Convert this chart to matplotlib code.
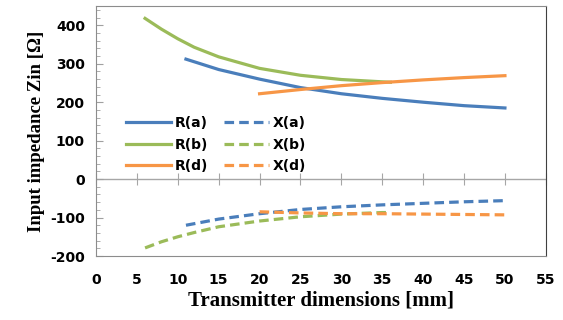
import numpy as np
import matplotlib.pyplot as plt

# data
x_a = [11, 15, 20, 25, 30, 35, 40, 45, 50]
R_a = [312, 285, 260, 238, 222, 210, 200, 191, 185]
X_a = [-120, -104, -90, -79, -72, -67, -63, -59, -56]

x_b = [6, 8, 10, 12, 15, 20, 25, 30, 35, 36]
R_b = [418, 390, 365, 343, 318, 288, 270, 259, 253, 252]
X_b = [-179, -163, -150, -139, -124, -109, -98, -91, -87, -87]

x_d = [20, 25, 30, 35, 40, 45, 50]
R_d = [222, 233, 243, 251, 258, 264, 269]
X_d = [-85, -88, -90, -90, -91, -92, -93]

c_a = '#4a7ebb'
c_b = '#9bbb59'
c_d = '#f79646'

fig = plt.figure(figsize=(5.63, 3.2), dpi=100)
ax = fig.add_axes([0.1705, 0.2, 0.799, 0.781])

lw = 2.3
dash = (3, 1.6)
ra, = ax.plot(x_a, R_a, color=c_a, lw=lw, label='R(a)')
rb, = ax.plot(x_b, R_b, color=c_b, lw=lw, label='R(b)')
rd, = ax.plot(x_d, R_d, color=c_d, lw=lw, label='R(d)')
xa, = ax.plot(x_a, X_a, color=c_a, lw=lw, ls=(0, dash), label='X(a)')
xb, = ax.plot(x_b, X_b, color=c_b, lw=lw, ls=(0, dash), label='X(b)')
xd, = ax.plot(x_d, X_d, color=c_d, lw=lw, ls=(0, dash), label='X(d)')

ax.set_xlim(0, 55)
ax.set_ylim(-200, 450)
ax.set_yticks(np.arange(-200, 401, 100))
ax.set_yticks(np.arange(-200, 451, 20), minor=True)
ax.set_xticks(np.arange(0, 56, 5))

tick_font = dict(family='DejaVu Sans', weight='bold', size=10)
ax.set_yticklabels([str(v) for v in range(-200, 401, 100)], **tick_font)
ax.set_xticklabels([str(v) for v in range(0, 56, 5)], **tick_font)
ax.tick_params(axis='x', length=0, pad=12)
ax.tick_params(axis='y', which='major', length=5, direction='in', color='#a0a0a0', pad=8)
ax.tick_params(axis='y', which='minor', length=3, direction='in', color='#a0a0a0')

# axis line at zero with ticks crossing it
ax.axhline(0, color='#a6a6a6', lw=1, zorder=0)
sec = ax.secondary_xaxis(200 / 650)
sec.set_xticks(np.arange(0, 56, 5))
sec.tick_params(axis='x', direction='inout', length=9, color='#a6a6a6', labelbottom=False)
sec.spines['bottom'].set_visible(False)
sec.set_xticklabels([])

for s in ['left', 'top', 'bottom']:
    ax.spines[s].set_color('#8c8c8c')
ax.spines['right'].set_color('#404040')

ax.set_xlabel('Transmitter dimensions [mm]', family='Liberation Serif',
              weight='bold', size=15, labelpad=3)
ax.set_ylabel('Input impedance Zin [Ω]', family='Liberation Serif',
              weight='bold', size=13.5, labelpad=4)

leg = ax.legend(handles=[ra, rb, rd, xa, xb, xd], ncol=2, frameon=False,
                loc='upper left', bbox_to_anchor=(0.04, 0.61),
                prop=dict(family='DejaVu Sans', weight='bold', size=10),
                handlelength=3.2, handletextpad=0.3, columnspacing=1.15,
                labelspacing=0.55)

fig.savefig('out.png', dpi=100)
